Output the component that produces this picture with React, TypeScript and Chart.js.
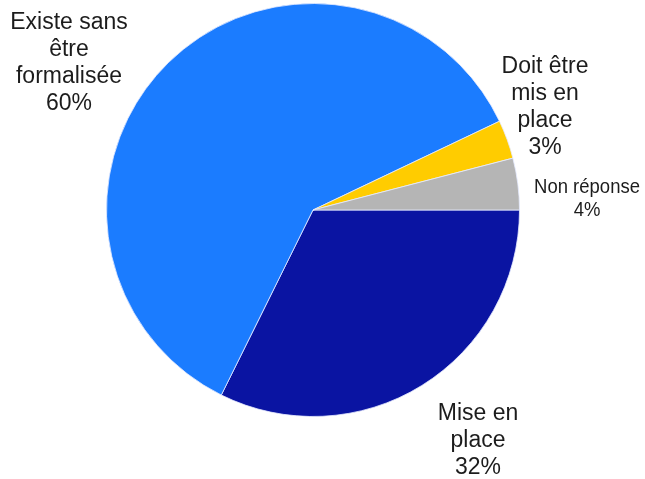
import React, { useEffect, useRef } from "react";
import { Chart, registerables } from "chart.js";

Chart.register(...registerables);

const categories = ["Mise en place", "Existe sans être formalisée", "Doit être mis en place", "Non réponse"];
const values = [32, 60, 3, 4];
const colors = ["#0A14A2", "#1B7CFF", "#FFCC00", "#B5B5B5"];
const labelLines = [
  ["Mise en", "place", "32%"],
  ["Existe sans", "être", "formalisée", "60%"],
  ["Doit être", "mis en", "place", "3%"],
  ["Non réponse", "4%"],
];
// label anchor (center of first line), font size, line height
const labelSpecs = [
  { x: 478, y: 413, size: 23, lh: 27 },
  { x: 69, y: 22, size: 23, lh: 27 },
  { x: 545, y: 66, size: 23, lh: 27 },
  { x: 587, y: 187, size: 18.5, lh: 23 },
];

const labelPlugin = {
  id: "sliceLabels",
  afterDraw(chart: any) {
    const ctx = chart.ctx;
    labelLines.forEach((lines, i) => {
      const s = labelSpecs[i];
      lines.forEach((t, j) => {
        ctx.save();
        ctx.fillStyle = "#1c1c1c";
        ctx.textAlign = "center";
        ctx.textBaseline = "middle";
        ctx.font = `${s.size}px "Liberation Sans", Arial, sans-serif`;
        ctx.translate(s.x, s.y + j * s.lh);
        ctx.scale(1, 1.08);
        ctx.fillText(t, 0, 0);
        ctx.restore();
      });
    });
  },
};

export default function App() {
  const ref = useRef<HTMLCanvasElement>(null);
  useEffect(() => {
    document.body.style.margin = "0";
    const chart = new Chart(ref.current!, {
      type: "pie",
      data: {
        labels: categories,
        datasets: [
          {
            data: values,
            backgroundColor: colors,
            borderColor: "rgba(230,235,255,0.8)",
            borderWidth: 1,
          },
        ],
      },
      options: {
        animation: false,
        responsive: false,
        rotation: 90,
        layout: { padding: { left: 106, right: 125, top: 3, bottom: 62 } },
        plugins: { legend: { display: false }, tooltip: { enabled: false } },
      },
      plugins: [labelPlugin],
    });
    return () => chart.destroy();
  }, []);
  return (
    <div style={{ position: "fixed", left: 0, top: 0, width: 645, height: 479, background: "#fff" }}>
      <canvas ref={ref} width={645} height={479} />
    </div>
  );
}
